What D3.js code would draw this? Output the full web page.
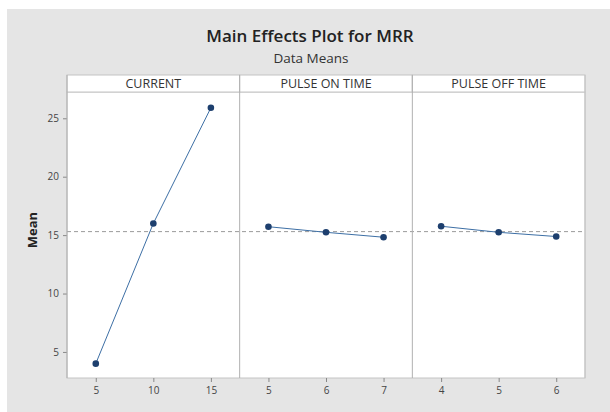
<!DOCTYPE html>
<html>
<head>
<meta charset="utf-8">
<script src="https://cdn.jsdelivr.net/npm/d3@7"></script>
<style>
  body { margin: 0; background: #fff; }
  svg { display: block; font-family: "Open Sans", "DejaVu Sans", sans-serif; }
</style>
</head>
<body>
<div id="chart"></div>
<script>
// facteurs et niveaux
var factors = ["CURRENT", "PULSE ON TIME", "PULSE OFF TIME"];
var currentLevels = [5, 10, 15];
var pulseOnLevels = [5, 6, 7];
var pulseOffLevels = [4, 5, 6];
// moyennes
var currentMeans = [4.0, 16.0, 25.9];
var pulseOnMeans = [15.72, 15.24, 14.82];
var pulseOffMeans = [15.76, 15.24, 14.88];
var yTicks = [5, 10, 15, 20, 25];

var W = 610, H = 412;
var plot = {left: 67, right: 585, top: 92, bottom: 378};
var stripTop = 75;

var panels = [
  {name: factors[0], levels: currentLevels, means: currentMeans},
  {name: factors[1], levels: pulseOnLevels, means: pulseOnMeans},
  {name: factors[2], levels: pulseOffLevels, means: pulseOffMeans}
];

var grandMean = d3.mean(currentMeans);

var svg = d3.select("#chart").append("svg")
    .attr("width", W).attr("height", H);

// fond gris
svg.append("rect").attr("x", 7).attr("y", 9)
    .attr("width", W - 7).attr("height", H - 9).attr("fill", "#e5e5e5");

// titres
svg.append("text").attr("x", 310).attr("y", 42)
    .attr("text-anchor", "middle")
    .style("font-size", "17px").style("font-weight", 600).style("fill", "#222")
    .text("Main Effects Plot for MRR");
svg.append("text").attr("x", 311).attr("y", 63)
    .attr("text-anchor", "middle")
    .style("font-size", "13.5px").style("fill", "#333")
    .text("Data Means");

var y = d3.scaleLinear().domain([2.77, 27.25]).range([plot.bottom, plot.top]);

var panelX = d3.scaleBand().domain(factors).range([plot.left, plot.right]);

// zone de tracé
svg.append("rect").attr("x", plot.left).attr("y", plot.top)
    .attr("width", plot.right - plot.left).attr("height", plot.bottom - plot.top)
    .attr("fill", "#fff").attr("stroke", "#c4c4c4");

// axe y
var yAxis = svg.append("g")
    .attr("transform", "translate(" + plot.left + ",0)")
    .call(d3.axisLeft(y).tickValues(yTicks).tickSize(4).tickPadding(4));
yAxis.select(".domain").remove();
yAxis.selectAll("line").attr("stroke", "#888");
yAxis.selectAll("text").style("font-size", "10px").style("fill", "#444")
    .style("font-family", "'Open Sans', sans-serif");

svg.append("text")
    .attr("transform", "translate(37,230) rotate(-90)")
    .attr("text-anchor", "middle")
    .style("font-size", "13px").style("font-weight", "bold").style("fill", "#222")
    .text("Mean");

// ligne de la moyenne générale
svg.append("line")
    .attr("x1", plot.left).attr("x2", plot.right)
    .attr("y1", y(grandMean)).attr("y2", y(grandMean))
    .attr("stroke", "#9a9a9a").attr("stroke-width", 1)
    .attr("stroke-dasharray", "4,3");

panels.forEach(function(p) {
  var x0 = panelX(p.name), bw = panelX.bandwidth();
  var x = d3.scalePoint().domain(p.levels).range([x0, x0 + bw]).padding(0.5);

  // bandeau
  svg.append("rect").attr("x", x0).attr("y", stripTop)
      .attr("width", bw).attr("height", plot.top - stripTop)
      .attr("fill", "#fff").attr("stroke", "#c4c4c4");
  svg.append("text").attr("x", x0 + bw / 2).attr("y", stripTop + 13)
      .attr("text-anchor", "middle")
      .style("font-size", "12.5px").style("fill", "#333")
      .text(p.name);

  // séparateur
  svg.append("line").attr("x1", x0).attr("x2", x0)
      .attr("y1", stripTop).attr("y2", plot.bottom)
      .attr("stroke", "#b0b0b0");

  // axe x
  var xAxis = svg.append("g")
      .attr("transform", "translate(0," + plot.bottom + ")")
      .call(d3.axisBottom(x).tickSize(4).tickPadding(5));
  xAxis.select(".domain").remove();
  xAxis.selectAll("line").attr("stroke", "#888");
  xAxis.selectAll("text").style("font-size", "10px").style("fill", "#444")
      .style("font-family", "'Open Sans', sans-serif");

  var pts = p.levels.map(function(l, i) { return {l: l, m: p.means[i]}; });

  svg.append("path").datum(pts)
      .attr("fill", "none").attr("stroke", "#3d6fa5").attr("stroke-width", 1)
      .attr("d", d3.line().x(function(d) { return x(d.l); }).y(function(d) { return y(d.m); }));

  svg.selectAll(null).data(pts).enter().append("circle")
      .attr("cx", function(d) { return x(d.l); })
      .attr("cy", function(d) { return y(d.m); })
      .attr("r", 3.3)
      .attr("fill", "#1d3f6e");
});

// bord droit
svg.append("line").attr("x1", plot.right).attr("x2", plot.right)
    .attr("y1", stripTop).attr("y2", plot.bottom).attr("stroke", "#c4c4c4");
</script>
</body>
</html>
